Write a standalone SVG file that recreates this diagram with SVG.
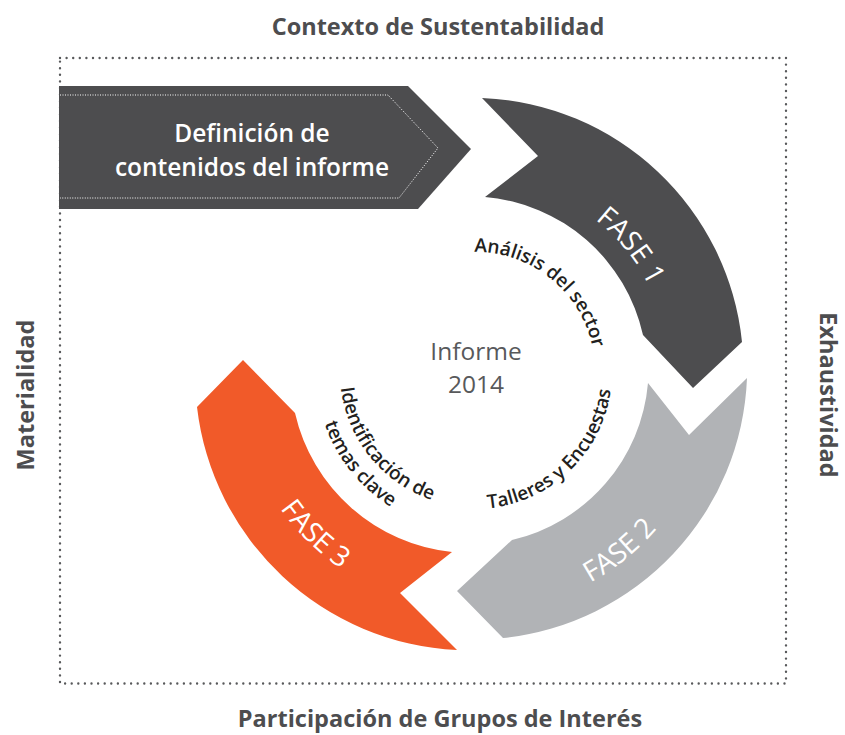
<svg xmlns="http://www.w3.org/2000/svg" width="845" height="735" viewBox="0 0 845 735">
<style>
.t{font-family:"Open Sans","Noto Sans","Liberation Sans",sans-serif;}
.side{font-weight:700;font-size:23.5px;fill:#4d4d4f;}
.arc{font-size:19px;fill:#231f20;font-weight:600;}
.fase{font-size:28px;fill:#ffffff;font-weight:400;}
</style>
<defs>
<path id="pA" d="M396.3,281.4 A120,120 0 0 1 580.0,430.2"/>
<path id="pT" d="M394.5,482.8 A137,137 0 0 0 588.6,295.4"/>
<path id="pI" d="M373.1,283.4 A135,135 0 0 0 540.4,490.1"/>
<path id="pTe" d="M355.9,266.6 A159,159 0 0 0 550.9,511.7"/>
<path id="pF1" d="M380.9,202.3 A194,194 0 0 1 621.4,499.3"/>
<path id="pF2" d="M317.5,553.1 A240,240 0 0 0 684.9,255.6"/>
<path id="pF3" d="M279.1,236.9 A238,238 0 0 0 612.9,566.0"/>
</defs>
<g id="frame">
<rect x="60" y="58" width="726" height="625.5" fill="none" stroke="#58595b" stroke-width="2.4" stroke-linecap="round" stroke-dasharray="0 6.6"/>
</g>
<g id="labels" class="t">
<text class="side" x="438" y="35" text-anchor="middle">Contexto de Sustentabilidad</text>
<text class="side" x="440" y="727" text-anchor="middle">Participación de Grupos de Interés</text>
<text class="side" transform="translate(34,395) rotate(-90)" text-anchor="middle">Materialidad</text>
<text class="side" transform="translate(820,395) rotate(90)" text-anchor="middle">Exhaustividad</text>
</g>
<g id="banner">
<polygon points="59,86 408,86 471,149 418,209 59,209" fill="#4d4d4f"/>
<polyline points="60,95 388,95 438,148 399,198 60,198" fill="none" stroke="#ffffff" stroke-width="1" stroke-dasharray="1 1.5"/>
<text class="t" x="252" y="142" text-anchor="middle" font-size="24.5" fill="#ffffff" font-weight="600">Definición de</text>
<text class="t" x="252" y="176" text-anchor="middle" font-size="24.5" fill="#ffffff" font-weight="600">contenidos del informe</text>
</g>
<g id="fase1">
<path d="M482,98 A272,272 0 0 1 742,342 L693,388 L643,335 A177,177 0 0 0 485,197 L538,156 Z" fill="#4d4d4f"/>
<text class="t fase"><textPath href="#pF1" startOffset="50%" text-anchor="middle">FASE 1</textPath></text>
</g>
<g id="fase2">
<path d="M747,378 A272,272 0 0 1 503,638 L457,591 L512,540 A177,177 0 0 0 648,383 L689,435 Z" fill="#b1b3b6"/>
<text class="t fase"><textPath href="#pF2" startOffset="50%" text-anchor="middle">FASE 2</textPath></text>
</g>
<g id="fase3">
<path d="M457,650 A275,275 0 0 1 197,407 L243,360 L295,413 A180,180 0 0 0 452,552 L400,593 Z" fill="#f15a29"/>
<text class="t fase"><textPath href="#pF3" startOffset="50%" text-anchor="middle">FASE 3</textPath></text>
</g>
<g id="center">
<text class="t" x="476" y="360" text-anchor="middle" font-size="24.5" fill="#58595b">Informe</text>
<text class="t" x="476" y="393" text-anchor="middle" font-size="24.5" fill="#58595b">2014</text>
</g>
<g id="steps" class="t">
<text class="arc"><textPath href="#pA" startOffset="50%" text-anchor="middle">Análisis del sector</textPath></text>
<text class="arc"><textPath href="#pT" startOffset="50%" text-anchor="middle">Talleres y Encuestas</textPath></text>
<text class="arc"><textPath href="#pI" startOffset="50%" text-anchor="middle">Identificación de</textPath></text>
<text class="arc"><textPath href="#pTe" startOffset="50%" text-anchor="middle">temas clave</textPath></text>
</g>
</svg>
